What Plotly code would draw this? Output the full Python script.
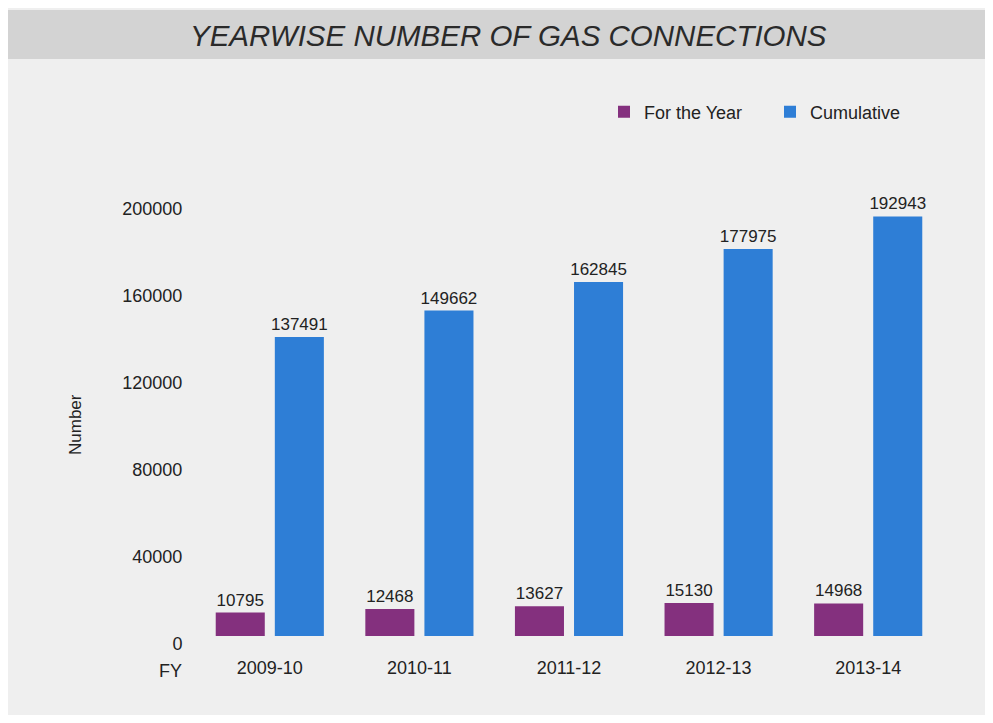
import plotly.graph_objects as go

years = ["2009-10", "2010-11", "2011-12", "2012-13", "2013-14"]
for_the_year = [10795, 12468, 13627, 15130, 14968]
cumulative = [137491, 149662, 162845, 177975, 192943]
y_ticks = [0, 40000, 80000, 120000, 160000, 200000]

# page offset of the figure (browser body margin)
OFF = 8
W, H = 985, 707
ML, MR, MT, MB = 187, 50, 172, 79
PW, PH = W - ML - MR, H - MT - MB

def px_x(px):
    return (px - OFF - ML) / PW

def px_y(py):
    return (H - MB - (py - OFF)) / PH

FONT = "Liberation Sans, Arial, Helvetica, sans-serif"
PURPLE = "#84307e"
BLUE = "#2e7ed6"

fig = go.Figure()
fig.add_trace(go.Bar(
    name="For the Year", x=years, y=for_the_year,
    marker=dict(color=PURPLE, line=dict(width=0)),
    text=[str(v) for v in for_the_year], textposition="outside",
    constraintext="none", cliponaxis=False,
    textfont=dict(size=17, color="#222222", family=FONT),
))
fig.add_trace(go.Bar(
    name="Cumulative", x=years, y=cumulative,
    marker=dict(color=BLUE, line=dict(width=0)),
    text=[str(v) for v in cumulative], textposition="outside",
    constraintext="none", cliponaxis=False,
    textfont=dict(size=17, color="#222222", family=FONT),
))

shapes = [
    dict(type="rect", xref="paper", yref="paper",
         x0=px_x(8), x1=px_x(1000), y0=px_y(59), y1=px_y(10),
         fillcolor="#d3d3d3", line=dict(width=0), layer="below"),
]

annotations = [
    dict(text="<i>YEARWISE NUMBER OF GAS CONNECTIONS</i>", xref="paper", yref="paper",
         x=px_x(508), y=px_y(35), xanchor="center", yanchor="middle",
         showarrow=False, font=dict(size=29.5, color="#2a2a2a", family=FONT)),
    dict(text="FY", xref="paper", yref="paper",
         x=px_x(184), y=px_y(671), xanchor="right", yanchor="middle",
         showarrow=False, font=dict(size=18, color="#222222", family=FONT)),
    dict(text="Number", xref="paper", yref="paper",
         x=px_x(75), y=px_y(425), xanchor="center", yanchor="middle", textangle=-90,
         showarrow=False, font=dict(size=17, color="#222222", family=FONT)),
]

fig.update_layout(
    width=W, height=H,
    margin=dict(l=ML, r=MR, t=MT, b=MB, autoexpand=False),
    paper_bgcolor="#efefef", plot_bgcolor="rgba(0,0,0,0)",
    barmode="group", bargap=0.21, bargroupgap=0.17,
    font=dict(family=FONT, color="#222222"),
    showlegend=True,
    legend=dict(orientation="h", x=px_x(604), y=px_y(112), xanchor="left", yanchor="middle",
                font=dict(size=18, color="#222222", family=FONT),
                bgcolor="rgba(0,0,0,0)", traceorder="normal",
                entrywidth=121, entrywidthmode="pixels", itemwidth=30),
    shapes=shapes, annotations=annotations,
)
fig.update_xaxes(type="category", automargin=False, showgrid=False, showline=False, zeroline=False,
                 ticks="outside", ticklen=15, tickcolor="rgba(0,0,0,0)",
                 tickfont=dict(size=18, color="#222222", family=FONT))
fig.update_yaxes(range=[0, 209700], automargin=False, showgrid=False, showline=False, zeroline=False,
                 tickvals=y_ticks, ticktext=[str(v) for v in y_ticks],
                 ticks="outside", ticklen=8, tickcolor="rgba(0,0,0,0)",
                 ticklabelshift=8,
                 tickfont=dict(size=18, color="#222222", family=FONT))

fig.write_html("out.html")
